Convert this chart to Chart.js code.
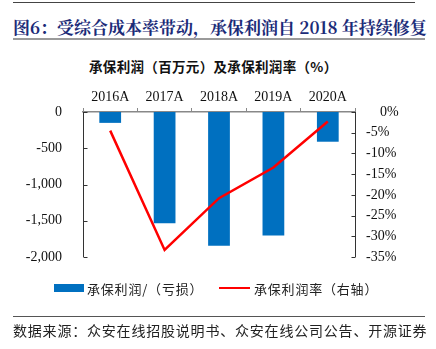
<!DOCTYPE html>
<html>
<head>
<meta charset="utf-8">
<script src="https://cdn.jsdelivr.net/npm/chart.js@4"></script>
<style>
  body { margin: 0; background: #fff; }
  #wrap { position: relative; width: 436px; height: 349px; overflow: hidden; }
  #wrap canvas { position: absolute; left: 0; top: 0; }
  .txt { position: absolute; white-space: nowrap; font-family: "Noto Sans CJK SC", sans-serif; }
  .rule { position: absolute; left: 13px; width: 412px; }
</style>
</head>
<body>
<div id="wrap">
  <div class="rule" style="top:2px; height:1px; background:#444; width:402px;"></div>
  <div class="txt" style="left:13px; top:14px; font-size:17px; font-weight:bold; color:#1b2b78; font-family:'Noto Serif CJK SC','Noto Sans CJK SC',serif;">图6：受综合成本率带动，承保利润自 2018 年持续修复</div>
  <div class="rule" style="top:38px; height:2px; background:#9a9a9a;"></div>
  <div class="txt" id="sub" style="left:89px; top:56px; font-size:13.5px; font-weight:bold; color:#111;">承保利润（百万元）及承保利润率（%）</div>
  <canvas id="chart" width="436" height="349"></canvas>
  <div style="position:absolute; left:54px; top:284px; width:30px; height:8px; background:#0070c0;"></div>
  <div class="txt" style="left:87px; top:279px; font-size:13px; color:#222; letter-spacing:0.8px;">承保利润/（亏损）</div>
  <div style="position:absolute; left:219px; top:287px; width:31px; height:2px; background:#ff0000;"></div>
  <div class="txt" style="left:254px; top:279px; font-size:13px; color:#222; letter-spacing:0.8px;">承保利润率（右轴）</div>
  <div class="rule" style="top:316px; height:1px; background:#555;"></div>
  <div class="txt" style="left:13px; top:320px; font-size:14px; color:#222; letter-spacing:0.8px;">数据来源：众安在线招股说明书、众安在线公司公告、开源证券</div>
</div>
<script>
// chart values
const years = ["2016A", "2017A", "2018A", "2019A", "2020A"];
const underwritingProfit = [-150, -1535, -1845, -1705, -410];   // 百万元
const underwritingMargin = [-4.5, -33.3, -20.8, -13.4, -2.3];   // %
const leftTicks = [0, -500, -1000, -1500, -2000];
const rightTicks = [0, -5, -10, -15, -20, -25, -30, -35];

const tickFont = { family: "'Liberation Serif', serif", size: 14 };

// squeeze the subtitle to the width it has in the original
const sub = document.getElementById("sub");
sub.style.letterSpacing = ((249 - sub.offsetWidth) / 18) + "px";

// y axes get their ticks drawn pointing inward, like the original
const innerTicks = {
  id: "innerTicks",
  afterDraw(chart) {
    const ctx = chart.ctx;
    const area = chart.chartArea;
    ctx.save();
    ctx.strokeStyle = "#333";
    ctx.lineWidth = 1;
    [["y", area.left, 1], ["y1", area.right, -1]].forEach(([id, x, dir]) => {
      const scale = chart.scales[id];
      const px = Math.round(x) + 0.5;
      ctx.beginPath();
      ctx.moveTo(px, area.top);
      ctx.lineTo(px, area.bottom);
      scale.ticks.forEach(t => {
        const py = Math.round(scale.getPixelForValue(t.value)) + 0.5;
        ctx.moveTo(px, py);
        ctx.lineTo(px + dir * 4, py);
      });
      ctx.stroke();
    });
    ctx.restore();
  }
};

const ctx = document.getElementById("chart").getContext("2d");
new Chart(ctx, {
  data: {
    labels: years,
    datasets: [
      {
        type: "line",
        label: "承保利润率（右轴）",
        data: underwritingMargin,
        yAxisID: "y1",
        borderColor: "#ff0000",
        borderWidth: 2.5,
        pointRadius: 0,
        tension: 0,
        order: 0
      },
      {
        type: "bar",
        label: "承保利润/（亏损）",
        data: underwritingProfit,
        yAxisID: "y",
        backgroundColor: "#0070c0",
        categoryPercentage: 1,
        barPercentage: 0.4,
        order: 1
      }
    ]
  },
  options: {
    responsive: false,
    animation: false,
    layout: { padding: { left: 0, right: 0, top: 82, bottom: 92 } },
    plugins: { legend: { display: false }, tooltip: { enabled: false } },
    scales: {
      x: {
        position: "top",
        grid: { drawOnChartArea: false, drawTicks: true, tickLength: 4, color: "#888", offset: true },
        border: { display: true, color: "#888", width: 1.5 },
        ticks: { color: "#111", font: tickFont, padding: 2, maxRotation: 0 },
        afterFit: s => { s.height = 30; }
      },
      y: {
        position: "left",
        min: -2000,
        max: 0,
        afterBuildTicks: s => { s.ticks = leftTicks.map(v => ({ value: v })); },
        grid: { display: false },
        border: { display: false },
        ticks: {
          color: "#111",
          font: tickFont,
          padding: 13,
          callback: v => v.toLocaleString("en-US")
        },
        afterFit: s => { s.width = 83; }
      },
      y1: {
        position: "right",
        min: -35,
        max: 0,
        afterBuildTicks: s => { s.ticks = rightTicks.map(v => ({ value: v })); },
        grid: { display: false },
        border: { display: false },
        ticks: {
          color: "#111",
          font: tickFont,
          padding: 3,
          callback: v => (v === 0 ? "\u2007\u2002" : "") + v + "%"
        },
        afterFit: s => { s.width = 81; }
      }
    }
  },
  plugins: [innerTicks]
});
</script>
</body>
</html>
